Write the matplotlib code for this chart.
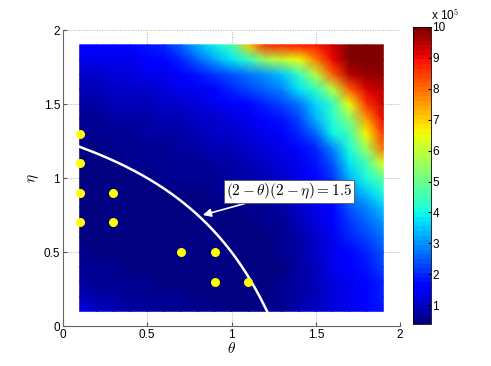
import numpy as np
import matplotlib
matplotlib.use("Agg")
import matplotlib.pyplot as plt

# grid of the parameter scan (theta along x, eta along y)
theta = np.round(np.arange(1, 20) * 0.1, 2)
eta = np.round(np.arange(1, 20) * 0.1, 2)

# values in units of 1e5, one row per eta (bottom to top)
Z = np.array([
    [1.30, 1.00, 0.85, 0.78, 0.72, 0.68, 0.65, 0.60, 0.56, 0.52, 0.52, 0.55, 0.62, 0.85, 1.00, 1.20, 1.40, 1.60, 1.80],
    [0.90, 0.78, 0.72, 0.68, 0.64, 0.60, 0.56, 0.52, 0.50, 0.48, 0.48, 0.50, 0.58, 0.75, 0.95, 1.20, 1.40, 1.60, 1.90],
    [0.72, 0.68, 0.64, 0.60, 0.55, 0.50, 0.47, 0.45, 0.44, 0.44, 0.45, 0.48, 0.56, 0.72, 0.95, 1.25, 1.45, 1.70, 2.00],
    [0.62, 0.60, 0.57, 0.53, 0.50, 0.46, 0.44, 0.43, 0.42, 0.42, 0.43, 0.46, 0.54, 0.72, 0.95, 1.30, 1.55, 1.80, 2.20],
    [0.55, 0.53, 0.50, 0.47, 0.45, 0.43, 0.42, 0.42, 0.42, 0.42, 0.43, 0.46, 0.55, 0.75, 1.00, 1.35, 1.70, 2.00, 2.40],
    [0.52, 0.50, 0.47, 0.45, 0.43, 0.42, 0.42, 0.42, 0.42, 0.43, 0.45, 0.50, 0.60, 0.82, 1.10, 1.45, 1.90, 2.20, 2.70],
    [0.50, 0.48, 0.46, 0.44, 0.43, 0.42, 0.42, 0.43, 0.44, 0.46, 0.50, 0.56, 0.66, 0.90, 1.20, 1.55, 2.10, 2.50, 3.00],
    [0.48, 0.47, 0.46, 0.45, 0.44, 0.44, 0.45, 0.47, 0.50, 0.54, 0.58, 0.64, 0.76, 1.00, 1.30, 1.70, 2.40, 2.80, 3.50],
    [0.48, 0.48, 0.48, 0.48, 0.48, 0.49, 0.51, 0.54, 0.58, 0.63, 0.68, 0.76, 0.88, 1.15, 1.45, 1.90, 2.80, 3.40, 4.00],
    [0.48, 0.49, 0.50, 0.51, 0.53, 0.55, 0.58, 0.62, 0.67, 0.73, 0.80, 0.90, 1.05, 1.30, 1.60, 2.10, 3.30, 4.00, 4.80],
    [0.50, 0.51, 0.53, 0.55, 0.58, 0.61, 0.65, 0.70, 0.76, 0.84, 0.93, 1.04, 1.20, 1.45, 1.80, 2.40, 3.70, 4.60, 6.30],
    [0.52, 0.54, 0.57, 0.60, 0.64, 0.68, 0.73, 0.79, 0.87, 0.96, 1.07, 1.20, 1.38, 1.66, 2.00, 2.80, 4.00, 5.60, 8.00],
    [0.58, 0.60, 0.63, 0.67, 0.72, 0.77, 0.83, 0.90, 1.00, 1.10, 1.23, 1.38, 1.58, 1.90, 2.50, 3.90, 4.60, 6.60, 8.50],
    [0.68, 0.70, 0.73, 0.77, 0.82, 0.88, 0.95, 1.04, 1.15, 1.28, 1.44, 1.62, 1.85, 2.20, 3.30, 4.20, 5.20, 7.50, 9.00],
    [0.80, 0.82, 0.85, 0.89, 0.95, 1.02, 1.10, 1.20, 1.33, 1.50, 1.70, 1.95, 2.30, 2.70, 3.60, 4.30, 6.50, 8.60, 9.30],
    [0.95, 0.97, 1.00, 1.05, 1.12, 1.20, 1.30, 1.45, 1.65, 1.90, 2.20, 2.50, 2.85, 3.70, 4.40, 5.90, 8.20, 9.20, 9.50],
    [1.10, 1.12, 1.16, 1.22, 1.30, 1.40, 1.55, 1.80, 2.10, 2.40, 2.70, 3.00, 3.40, 4.40, 5.90, 8.10, 9.50, 9.80, 9.80],
    [1.30, 1.32, 1.36, 1.42, 1.50, 1.62, 1.90, 2.50, 3.20, 3.70, 4.30, 5.50, 6.00, 6.40, 7.80, 9.00, 10.0, 10.0, 10.0],
    [1.55, 1.57, 1.60, 1.65, 1.75, 2.00, 2.60, 3.30, 3.90, 4.60, 7.00, 8.60, 8.70, 8.80, 8.90, 9.30, 10.0, 10.0, 10.0],
])

# sampled points (yellow dots)
pts_theta = [0.1, 0.1, 0.1, 0.1, 0.3, 0.3, 0.7, 0.9, 0.9, 1.1]
pts_eta = [1.3, 1.1, 0.9, 0.7, 0.9, 0.7, 0.5, 0.5, 0.3, 0.3]

# boundary curve (2-theta)(2-eta) = c
c = 1.5
curve_theta = np.linspace(0.1, 2 - c / 1.9, 200)
curve_eta = 2 - c / (2 - curve_theta)

plt.rcParams['font.family'] = ['Liberation Sans', 'DejaVu Sans']
plt.rcParams['mathtext.fontset'] = 'cm'

fig = plt.figure(figsize=(4.91, 3.66), dpi=100)
ax = fig.add_axes([0.128, 0.109, 0.687, 0.809])

T, E = np.meshgrid(theta, eta)
cmap = plt.get_cmap('jet', 64)
mesh = ax.pcolormesh(T, E, Z, shading='gouraud', cmap=cmap, vmin=0.4, vmax=10, zorder=1)

ax.plot(curve_theta, curve_eta, color='white', lw=1.8, zorder=3)
ax.plot(pts_theta, pts_eta, 'o', color='#ffff00', ms=6.5, mec='none', zorder=4)

ax.annotate(r'$(2-\theta)(2-\eta)=1.5$', xy=(0.83, 0.75), xytext=(1.34, 0.91),
            ha='center', va='center', fontsize=11, zorder=5,
            bbox=dict(boxstyle='square,pad=0.12', fc='white', ec='#555555', lw=0.6),
            arrowprops=dict(arrowstyle='-|>', color='white', lw=1.2,
                            mutation_scale=12, shrinkA=0, shrinkB=0))

ax.set_xlim(0, 2)
ax.set_ylim(0, 2)
ax.set_xticks([0, 0.5, 1, 1.5, 2])
ax.set_yticks([0, 0.5, 1, 1.5, 2])
ax.set_xticklabels(['0', '0.5', '1', '1.5', '2'])
ax.set_yticklabels(['0', '0.5', '1', '1.5', '2'])
ax.tick_params(direction='in', length=3, labelsize=8.5, color='#555555', pad=2)
ax.set_axisbelow(True)
ax.grid(True, linestyle=':', color='#aaaaaa', lw=0.7, zorder=0)
for s in ['top', 'right']:
    ax.spines[s].set_visible(False)
for s in ['left', 'bottom']:
    ax.spines[s].set_color('#666666')
ax.set_xlabel(r'$\theta$', fontsize=11, labelpad=0)
ax.set_ylabel(r'$\eta$', fontsize=11, labelpad=2)

cax = fig.add_axes([0.8405, 0.115, 0.0375, 0.812])
cb = fig.colorbar(mesh, cax=cax, ticks=range(1, 11))
cb.outline.set_linewidth(0.6)
cax.tick_params(labelsize=8.5, direction='in', length=2.5, pad=1)
fig.text(0.878, 0.945, r'x 10$^5$', fontsize=8.5)

fig.savefig('out.png', dpi=100)
